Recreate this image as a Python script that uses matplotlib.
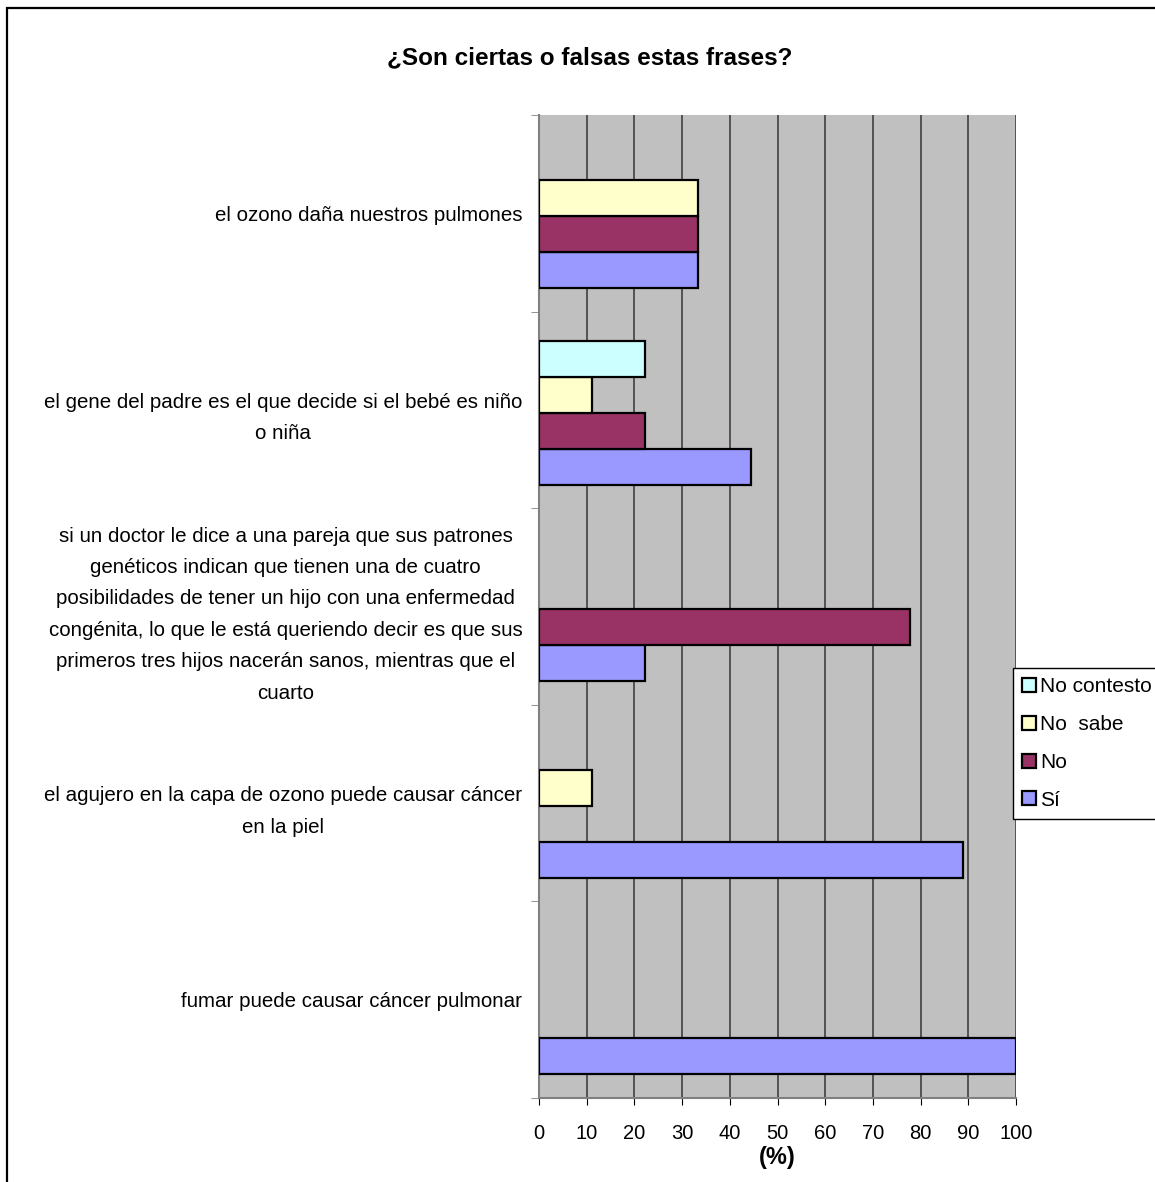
import matplotlib
matplotlib.use("Agg")
import matplotlib.pyplot as plt
import numpy as np
from matplotlib.patches import Rectangle, Patch

plt.rcParams['font.family'] = ['Liberation Sans', 'DejaVu Sans']

# Data (bottom to top, as drawn)
categories = [
    "fumar puede causar cáncer pulmonar",
    "el agujero en la capa de ozono puede causar cáncer\nen la piel",
    "si un doctor le dice a una pareja que sus patrones\ngenéticos indican que tienen una de cuatro\nposibilidades de tener un hijo con una enfermedad\ncongénita, lo que le está queriendo decir es que sus\nprimeros tres hijos nacerán sanos, mientras que el\ncuarto",
    "el gene del padre es el que decide si el bebé es niño\no niña",
    "el ozono daña nuestros pulmones",
]
series_names = ["Sí", "No", "No  sabe", "No contesto"]
si = [100.0, 88.9, 22.2, 44.4, 33.3]
no = [0.0, 0.0, 77.8, 22.2, 33.3]
no_sabe = [0.0, 11.1, 0.0, 11.1, 33.3]
no_contesto = [0.0, 0.0, 0.0, 22.2, 0.0]
series_values = [si, no, no_sabe, no_contesto]
colors = ["#9999FF", "#993366", "#FFFFCC", "#CCFFFF"]
xticks = list(range(0, 101, 10))

W, H = 1155, 1182
fig = plt.figure(figsize=(W / 100, H / 100), dpi=100)
ax = fig.add_axes([539 / W, 1 - 1098 / H, (1016 - 539) / W, (1098 - 115) / H])
ax.set_facecolor("#C0C0C0")

y = np.arange(len(categories))
h = 0.183
shift = -0.014
offsets = [-1.5 * h, -0.5 * h, 0.5 * h, 1.5 * h]
for vals, name, col, off in zip(series_values, series_names, colors, offsets):
    lws = [1.6 if v > 0 else 0 for v in vals]
    ax.barh(y + off + shift, vals, height=h, color=col, edgecolor="black",
            linewidth=lws, label=name, zorder=3)

ax.set_xlim(0, 100)
ax.set_ylim(-0.5, len(categories) - 0.5)
ax.set_xticks(xticks)
ax.set_xticklabels([str(t) for t in xticks], fontsize=14.5)
ax.set_yticks(y)
ax.set_yticklabels(categories, fontsize=14.8, multialignment="center", linespacing=1.83)
ax.set_yticks(np.arange(-0.5, len(categories), 1.0), minor=True)
ax.tick_params(axis="y", which="major", length=0, pad=12)
ax.tick_params(axis="y", which="minor", length=6, color="#808080", direction="out")
ax.tick_params(axis="x", which="major", length=5, color="black", direction="out", pad=14)

ax.grid(axis="x", color="#404040", linewidth=1.2, zorder=1)
ax.set_axisbelow(True)
for s in ["top", "right"]:
    ax.spines[s].set_visible(False)
ax.spines["left"].set_color("#808080")
ax.spines["bottom"].set_color("#808080")
ax.spines["left"].set_linewidth(1.5)
ax.spines["bottom"].set_linewidth(1.5)

ax.set_xlabel("(%)", fontsize=17, fontweight="bold", labelpad=2)

fig.text(590 / W, 1 - 58 / H, "¿Son ciertas o falsas estas frases?", fontsize=17.5,
         fontweight="bold", ha="center", va="center")

handles = [Patch(facecolor=c, edgecolor="black", linewidth=1.6) for c in colors]
leg = fig.legend(handles=handles[::-1], labels=series_names[::-1], loc="upper left",
                 bbox_to_anchor=(1013 / W, 1 - 668 / H), fontsize=15, frameon=True,
                 fancybox=False, edgecolor="black", framealpha=1, handlelength=0.65,
                 handleheight=0.65, handletextpad=0.2, labelspacing=0.9,
                 borderpad=0.45, borderaxespad=0)
leg.get_frame().set_linewidth(1.0)

fig.patches.append(Rectangle((7 / W, -0.05), 1.2, 1 - 8 / H + 0.05, transform=fig.transFigure,
                             fill=False, edgecolor="black", linewidth=1.6, zorder=10))

fig.savefig("out.png", dpi=100)
